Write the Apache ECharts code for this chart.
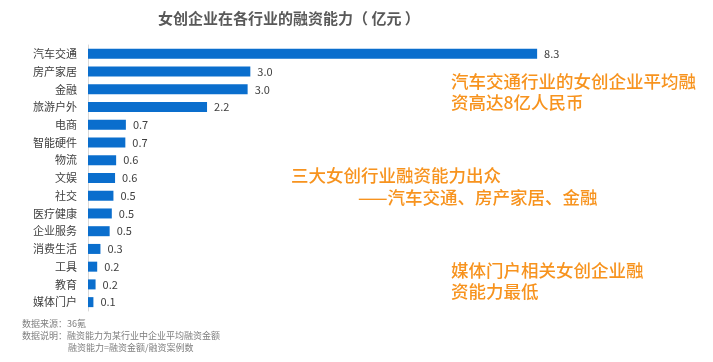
<!DOCTYPE html>
<html><head><meta charset="utf-8">
<script src="https://cdn.jsdelivr.net/npm/echarts@6/dist/echarts.min.js"></script>
<style>html,body{margin:0;padding:0;background:#fff}#c{width:713px;height:362px}</style>
</head><body><div id="c"></div>
<script>
const categories = ['汽车交通','房产家居','金融','旅游户外','电商','智能硬件','物流','文娱','社交','医疗健康','企业服务','消费生活','工具','教育','媒体门户'];
const values = [8.3,3.0,3.0,2.2,0.7,0.7,0.6,0.6,0.5,0.5,0.5,0.3,0.2,0.2,0.1];
const barLengths = [8.3,3.0,2.95,2.2,0.7,0.69,0.52,0.5,0.47,0.44,0.4,0.23,0.17,0.14,0.1];
const titleText = '女创企业在各行业的融资能力（ 亿元 ）';
const note1 = ['汽车交通行业的女创企业平均融','资高达8亿人民币'];
const note2 = ['三大女创行业融资能力出众','——汽车交通、房产家居、金融'];
const note3 = ['媒体门户相关女创企业融','资能力最低'];
const sourceLines = ['数据来源：36氪','数据说明：融资能力为某行业中企业平均融资金额','融资能力=融资金额/融资案例数'];

const FONT = '"Noto Sans CJK SC","Noto Sans",sans-serif';
const orange = '#F7931E';
const chart = echarts.init(document.getElementById('c'));
const data = barLengths.map((v,i)=>({value:v, label:{formatter: values[i].toFixed(1)}}));
const note = (x,y,t)=>({type:'text',x:x,y:y,style:{text:t,fill:orange,font:'500 17.5px '+FONT,textVerticalAlign:'middle'}});
chart.setOption({
  animation:false,
  title:{text:titleText,left:153,top:6,textStyle:{fontFamily:FONT,fontSize:15,fontWeight:'bold',color:'#595959'}},
  grid:{left:88,right:138,top:45,bottom:51},
  xAxis:{type:'value',min:0,max:9,show:false},
  yAxis:{type:'category',inverse:true,data:categories,
    axisLine:{show:true,lineStyle:{color:'#d9d9d9'}},axisTick:{show:false},
    axisLabel:{margin:11,fontFamily:FONT,fontSize:11,color:'#404040'}},
  series:[{type:'bar',data:data,barWidth:10,itemStyle:{color:'#0A6ECD'},
    label:{show:true,position:'right',distance:7,fontFamily:FONT,fontSize:11,color:'#404040'}}],
  graphic:[
    note(451,81,note1[0]),note(451,102,note1[1]),
    note(291,175,note2[0]),note(358,197,note2[1]),
    note(451,270,note3[0]),note(451,291,note3[1]),
    {type:'text',left:22,top:319,style:{text:sourceLines[0],fill:'#7f7f7f',font:'9px '+FONT}},
    {type:'text',left:22,top:331,style:{text:sourceLines[1],fill:'#7f7f7f',font:'9px '+FONT}},
    {type:'text',left:68,top:343,style:{text:sourceLines[2],fill:'#7f7f7f',font:'9px '+FONT}}
  ]
});
</script></body></html>
